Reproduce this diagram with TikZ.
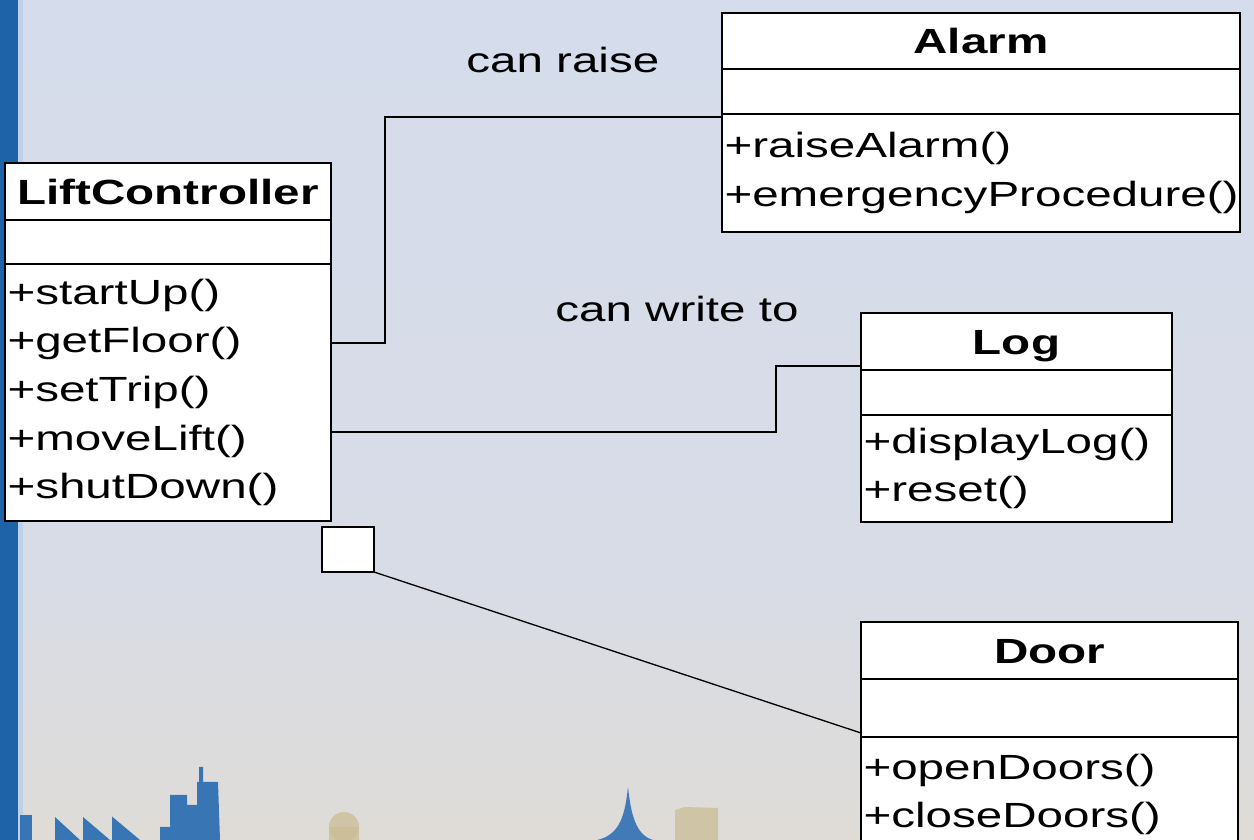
\documentclass[tikz,border=0pt]{standalone}
\usepackage{fontspec}
\setmainfont[FakeStretch=1.36]{Liberation Sans}
\usepackage{xcolor}
\usepackage{tikz}
\usetikzlibrary{positioning}

\definecolor{slidetop}{RGB}{213,220,235}
\definecolor{slidemid}{RGB}{216,220,231}
\definecolor{slidelow}{RGB}{223,220,215}
\definecolor{barblue}{RGB}{30,98,168}
\definecolor{barlight}{RGB}{190,208,234}
\definecolor{cityblue}{RGB}{38,106,178}
\definecolor{citytan}{RGB}{204,189,150}

\begin{document}
\begin{tikzpicture}[
clsname/.style={draw, fill=white, line width=1.15pt, outer sep=0pt, inner sep=0pt, text height=0.51cm, text depth=0cm, font=\fontsize{19.9}{24}\selectfont\bfseries},
clsattr/.style={draw, fill=white, line width=1.15pt, outer sep=0pt, inner sep=0pt},
clsops/.style={draw, fill=white, line width=1.15pt, outer sep=0pt, inner xsep=0.05cm, inner ysep=0pt, align=left, font=\fontsize{19.9}{27.7}\selectfont},
assoc/.style={draw=black, line width=0.75pt},
rolelbl/.style={anchor=base west, inner sep=0pt, font=\fontsize{19.9}{24}\selectfont}
]

% ====== Slide background ======
\useasboundingbox (0,0) rectangle (25.08,16.8);
\clip (0,0) rectangle (25.08,16.8);
\shade[top color=slidetop, bottom color=slidemid] (0,5.6) rectangle (25.08,16.8);
\shade[top color=slidemid, bottom color=slidelow] (0,0) rectangle (25.08,5.6);
\fill[barblue] (0,0) rectangle (0.36,16.8);
\fill[barlight] (0.36,0) rectangle (0.46,16.8);

% ====== Skyline ======
\fill[cityblue, opacity=0.9] (0.40,0) rectangle (0.64,0.50);
\fill[cityblue, opacity=0.9] (1.10,0) -- (1.10,0.46) -- (1.60,0) -- cycle;
\fill[cityblue, opacity=0.9] (1.66,0) -- (1.66,0.46) -- (2.20,0) -- cycle;
\fill[cityblue, opacity=0.9] (2.24,0) -- (2.24,0.47) -- (2.80,0) -- cycle;
\fill[cityblue, opacity=0.9] (3.20,0) -- (3.20,0.26) -- (3.40,0.26) -- (3.40,0.90) -- (3.74,0.90)
  -- (3.74,0.70) -- (3.94,0.70) -- (3.94,1.16) -- (3.98,1.16) -- (3.98,1.46) -- (4.06,1.46)
  -- (4.06,1.16) -- (4.36,1.16) -- (4.40,0) -- cycle;
\fill[citytan, opacity=0.75] (6.88,0.26) circle (0.30);
\fill[citytan, opacity=0.75] (6.58,0) rectangle (7.18,0.26);
\fill[cityblue, opacity=0.85] (11.94,0) .. controls (12.40,0.10) and (12.50,0.50) .. (12.56,1.06)
  .. controls (12.62,0.50) and (12.72,0.10) .. (13.06,0) -- cycle;
\fill[citytan, opacity=0.75] (13.50,0) -- (13.50,0.60) -- (13.70,0.66) -- (14.36,0.64) -- (14.36,0) -- cycle;

% ====== LiftController ======
\node[clsname, minimum width=6.52cm, minimum height=1.14cm, anchor=north west] (lcName) at (0.10,13.54) {LiftController};
\node[clsattr, minimum width=6.52cm, minimum height=0.88cm, below=0pt of lcName] (lcAttr) {};
\node[clsops, text width=6.42cm, minimum height=5.14cm, below=0pt of lcAttr] (lcOps) {+startUp()\\+getFloor()\\+setTrip()\\+moveLift()\\+shutDown()};
\node[clsattr, minimum width=1.04cm, minimum height=0.90cm, anchor=north west] (qual) at (6.44,6.26) {};

% ====== Alarm ======
\node[clsname, minimum width=10.36cm, minimum height=1.12cm, anchor=north west] (alarmName) at (14.44,16.54) {Alarm};
\node[clsattr, minimum width=10.36cm, minimum height=0.90cm, below=0pt of alarmName] (alarmAttr) {};
\node[clsops, text width=10.26cm, minimum height=2.36cm, below=0pt of alarmAttr] (alarmOps) {+raiseAlarm()\\+emergencyProcedure()};

% ====== Log ======
\node[clsname, minimum width=6.22cm, minimum height=1.14cm, anchor=north west] (logName) at (17.22,10.54) {Log};
\node[clsattr, minimum width=6.22cm, minimum height=0.90cm, below=0pt of logName] (logAttr) {};
\node[clsops, text width=6.12cm, minimum height=2.14cm, below=0pt of logAttr] (logOps) {+displayLog()\\+reset()};

% ====== Door ======
\node[clsname, minimum width=7.54cm, minimum height=1.14cm, anchor=north west] (doorName) at (17.22,4.36) {Door};
\node[clsattr, minimum width=7.54cm, minimum height=1.16cm, below=0pt of doorName] (doorAttr) {};
\node[clsops, text width=7.44cm, minimum height=2.30cm, below=0pt of doorAttr] (doorOps) {+openDoors()\\+closeDoors()};

% ====== Associations ======
\draw[assoc] ([yshift=0.99cm]lcOps.east) -- ++(1.08,0) |- ([yshift=-0.06cm]alarmOps.north west);
\draw[assoc] ([yshift=-0.79cm]lcOps.east) -- ++(8.90,0) |- ([yshift=0.08cm]logName.south west);
\draw[assoc] (qual.south east) -- ([yshift=0.08cm]doorAttr.south west);

\node[rolelbl] (raiseLbl) at (9.32,15.34) {can raise};
\node[rolelbl] (writeLbl) at (11.10,10.36) {can write to};

\end{tikzpicture}
\end{document}
